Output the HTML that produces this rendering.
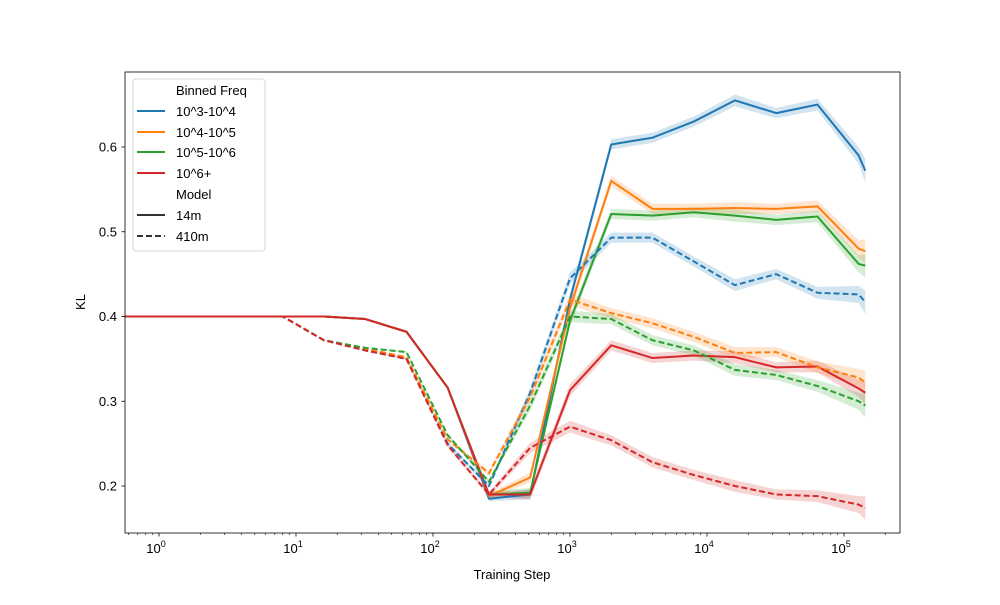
<!DOCTYPE html>
<html><head><meta charset="utf-8"><style>
body{margin:0;background:#fff;}
svg text{font-family:"Liberation Sans","DejaVu Sans",sans-serif;fill:#000;}
</style></head><body>
<svg id="chart" width="1000" height="600" viewBox="0 0 1000 600" xmlns="http://www.w3.org/2000/svg">
<defs><clipPath id="clip"><rect x="125" y="72" width="775" height="461"/></clipPath></defs>
<rect x="0" y="0" width="1000" height="600" fill="#fff"/>
<g id="bands" clip-path="url(#clip)"></g>
<g id="lines" clip-path="url(#clip)"></g>
<g id="axes"></g>
<rect x="125" y="72" width="775" height="461" fill="none" stroke="#000" stroke-width="0.8"/>
<text x="512" y="579" font-size="13" text-anchor="middle">Training Step</text>
<text x="85" y="302" font-size="13" text-anchor="middle" transform="rotate(-90 85 302)">KL</text>
<g>
<rect x="133" y="79" width="132" height="172" rx="3" fill="#fff" fill-opacity="0.8" stroke="#ccc" stroke-width="0.8"/>
<text x="176" y="95" font-size="13">Binned Freq</text>
<line x1="137" y1="111" x2="165" y2="111" stroke="#1f77b4" stroke-width="2"/><text x="176" y="116" font-size="13">10^3-10^4</text>
<line x1="137" y1="132" x2="165" y2="132" stroke="#ff7f0e" stroke-width="2"/><text x="176" y="137" font-size="13">10^4-10^5</text>
<line x1="137" y1="152" x2="165" y2="152" stroke="#2ca02c" stroke-width="2"/><text x="176" y="157" font-size="13">10^5-10^6</text>
<line x1="137" y1="173" x2="165" y2="173" stroke="#d62728" stroke-width="2"/><text x="176" y="178" font-size="13">10^6+</text>
<text x="176" y="199" font-size="13">Model</text>
<line x1="137" y1="215" x2="165" y2="215" stroke="#333" stroke-width="2"/><text x="176" y="220" font-size="13">14m</text>
<line x1="137" y1="236" x2="165" y2="236" stroke="#333" stroke-width="2" stroke-dasharray="6,3"/><text x="176" y="241" font-size="13">410m</text>
</g>
</svg>
<script>
const steps=[0.5,1,2,4,8,16,32,64,128,256,512,1000,2000,4000,8000,16000,32000,64000,128000,143000];
const s14_blue=[0.4,0.4,0.4,0.4,0.4,0.4,0.397,0.382,0.316,0.185,0.19,0.42,0.603,0.611,0.63,0.655,0.64,0.65,0.59,0.572];
const s14_orange=[0.4,0.4,0.4,0.4,0.4,0.4,0.397,0.382,0.316,0.188,0.21,0.41,0.56,0.527,0.527,0.528,0.527,0.53,0.48,0.477];
const s14_green=[0.4,0.4,0.4,0.4,0.4,0.4,0.397,0.382,0.316,0.19,0.192,0.395,0.521,0.519,0.523,0.519,0.514,0.518,0.462,0.46];
const s14_red=[0.4,0.4,0.4,0.4,0.4,0.4,0.397,0.382,0.316,0.19,0.19,0.313,0.366,0.351,0.354,0.352,0.34,0.341,0.315,0.31];
const s410_blue=[0.4,0.4,0.4,0.4,0.4,0.372,0.36,0.35,0.25,0.2,0.31,0.445,0.493,0.493,0.465,0.437,0.45,0.428,0.426,0.417];
const s410_orange=[0.4,0.4,0.4,0.4,0.4,0.372,0.362,0.352,0.255,0.215,0.305,0.42,0.404,0.392,0.376,0.357,0.358,0.34,0.328,0.322];
const s410_green=[0.4,0.4,0.4,0.4,0.4,0.372,0.363,0.358,0.26,0.205,0.295,0.4,0.397,0.372,0.36,0.337,0.331,0.318,0.3,0.295];
const s410_red=[0.4,0.4,0.4,0.4,0.4,0.372,0.36,0.35,0.248,0.19,0.245,0.27,0.254,0.228,0.213,0.2,0.19,0.188,0.178,0.174];
const ciHalf=[0,0,0,0,0,0,0,0.001,0.002,0.003,0.006,0.007,0.006,0.006,0.006,0.007,0.006,0.007,0.01,0.014];
const yTicks=[0.2,0.3,0.4,0.5,0.6];
const xTicks=[1,10,100,1000,10000,100000];
const xTickLabels=["0","1","2","3","4","5"];
const colors={blue:"#1f77b4",orange:"#ff7f0e",green:"#2ca02c",red:"#d62728"};
const NS="http://www.w3.org/2000/svg";
const X=v=>159+137*Math.log10(v);
const Y=v=>486-(v-0.2)*847.5;
function mk(tag,attrs,parent){const e=document.createElementNS(NS,tag);for(const k in attrs)e.setAttribute(k,attrs[k]);parent.appendChild(e);return e;}
const bands=document.getElementById('bands'),lines=document.getElementById('lines'),axes=document.getElementById('axes');
const series=[["blue",s14_blue,false],["orange",s14_orange,false],["green",s14_green,false],["red",s14_red,false],["blue",s410_blue,true],["orange",s410_orange,true],["green",s410_green,true],["red",s410_red,true]];
series.forEach(([c,vals,dash])=>{
  const up=steps.map((s,i)=>X(s)+','+Y(vals[i]+ciHalf[i]));
  const dn=steps.map((s,i)=>X(s)+','+Y(vals[i]-ciHalf[i])).reverse();
  const b=mk('polygon',{points:up.concat(dn).join(' '),fill:colors[c],'fill-opacity':0.2,stroke:'none'},bands);
  
  
});
series.forEach(([c,vals,dash])=>{
  const p=mk('polyline',{points:steps.map((s,i)=>X(s)+','+Y(vals[i])).join(' '),fill:'none',stroke:colors[c],'stroke-width':2,'stroke-linejoin':'round'},lines);
  if(dash)p.setAttribute('stroke-dasharray','6,3');
  
  
});
yTicks.forEach(t=>{
  const y=Y(t);
  mk('line',{x1:125,x2:121.5,y1:y,y2:y,stroke:'#000','stroke-width':0.8},axes);
  const tx=mk('text',{x:117,y:y+4.5,'font-size':13,'text-anchor':'end'},axes);
  tx.textContent=t.toFixed(1);
  
  
});
xTicks.forEach((t,i)=>{
  const x=X(t);
  mk('line',{x1:x,x2:x,y1:533,y2:536.5,stroke:'#000','stroke-width':0.8},axes);
  const tx=mk('text',{x:x-3,y:553,'font-size':13,'text-anchor':'middle'},axes);
  tx.textContent='10';
  const sp=mk('tspan',{dy:-6,'font-size':9},tx);
  sp.textContent=xTickLabels[i];
  
  
  for(let m=2;m<10;m++){const xm=X(t*m);if(xm<=900)mk('line',{x1:xm,x2:xm,y1:533,y2:535,stroke:'#000','stroke-width':0.6},axes);}
});
for(let m=6;m<10;m++){mk('line',{x1:X(m/10),x2:X(m/10),y1:533,y2:535,stroke:'#000','stroke-width':0.6},axes);}
</script>
</body></html>
